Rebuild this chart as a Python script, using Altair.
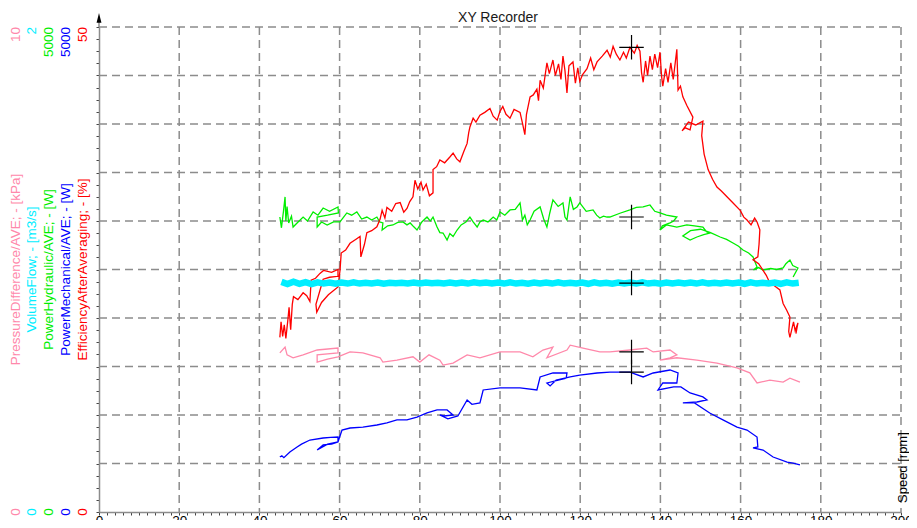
import altair as alt
import pandas as pd

W, H = 802, 485
FONT = "Liberation Sans"
GRID_COLOR = "#8c8c8c"

# ---------------- data ----------------
x_label_values = [0, 20, 40, 60, 80, 100, 120, 140, 160, 180, 200]
x_grid_values = [20, 40, 60, 80, 100, 120, 140, 160, 180, 200]
x_minor_ticks = list(range(0, 201, 2))
y_grid_units = [1, 2, 3, 4, 5, 6, 7, 8, 9, 10]
y_minor_ticks = [i / 4 for i in range(41)]

# (speed, efficiency %)
red = [(45.1, 18.0), (45.4, 19.6), (45.8, 18.1), (46.2, 19.3), (46.6, 17.9), (47.1, 19.8), (47.4, 21.1),
       (47.8, 18.8), (48.2, 21.4), (48.5, 22.2), (49.6, 21.9), (50.9, 22.6), (51.8, 22.3), (52.6, 21.7),
       (52.9, 23.9), (54.0, 24.1), (55.1, 24.6), (56.0, 24.9), (58.0, 24.7), (59.6, 25.0), (59.6, 24.3),
       (57.5, 24.2), (55.9, 24.0), (54.1, 21.4), (54.3, 20.6), (55.5, 21.6), (57.2, 22.4), (59.6, 23.2),
       (60.1, 24.9), (60.4, 26.7), (61.5, 27.0), (62.6, 27.7), (64.0, 28.1), (65.1, 28.4), (65.3, 26.3),
       (66.2, 27.6), (66.8, 28.8), (68.0, 29.0), (69.3, 29.4), (70.1, 30.2), (70.6, 31.1), (71.3, 30.3),
       (71.8, 31.4), (73.0, 31.0), (74.0, 31.8), (75.1, 31.9), (76.0, 30.9), (76.8, 31.3), (77.5, 32.0),
       (78.3, 32.5), (78.8, 34.2), (79.5, 33.3), (80.3, 34.0), (80.8, 33.2), (81.6, 33.8), (82.4, 32.6),
       (83.3, 32.9), (83.3, 35.3), (84.2, 35.6), (85.0, 36.3), (86.2, 36.0), (87.5, 36.6), (88.3, 37.0),
       (89.2, 36.4), (90.0, 36.1), (91.0, 37.2), (91.8, 38.0), (92.2, 39.1), (92.5, 39.7), (93.3, 40.6),
       (94.0, 40.2), (95.0, 40.9), (96.2, 41.2), (97.5, 41.6), (98.3, 40.8), (99.3, 40.4), (100.0, 41.3),
       (100.7, 41.8), (101.5, 41.0), (102.5, 40.6), (103.5, 41.5), (105.0, 41.2), (105.6, 40.1), (106.2, 38.9),
       (106.6, 41.0), (107.5, 42.8), (108.3, 43.0), (109.2, 43.6), (109.6, 42.4), (110.0, 44.5), (110.8, 43.7),
       (111.7, 46.3), (112.3, 45.2), (113.2, 46.6), (113.8, 45.0), (114.6, 46.2), (115.2, 44.6), (115.7, 47.0),
       (116.2, 45.5), (116.7, 43.2), (117.2, 46.0), (118.2, 46.4), (118.8, 44.2), (119.4, 45.8), (119.9, 44.4),
       (120.6, 45.1), (121.7, 45.7), (122.6, 46.8), (123.4, 45.6), (124.2, 46.4), (125.5, 47.0), (126.7, 47.6),
       (127.5, 46.9), (128.2, 48.0), (129.0, 47.2), (129.9, 46.6), (130.8, 47.4), (131.5, 46.8), (132.4, 47.9),
       (133.5, 47.3), (134.2, 48.1), (134.9, 47.5), (135.3, 45.3), (135.7, 44.3), (136.3, 46.5), (136.8, 45.0),
       (137.4, 47.0), (138.0, 45.6), (138.6, 47.2), (139.3, 45.8), (139.9, 47.4), (140.3, 44.9), (140.6, 43.9),
       (141.3, 45.7), (141.9, 44.3), (142.6, 46.3), (143.2, 44.6), (144.1, 47.7), (144.3, 45.0), (144.4, 43.5),
       (145.0, 43.9), (145.6, 42.8), (146.6, 41.9), (148.1, 40.7), (147.4, 39.4), (146.2, 39.6), (145.4, 39.3),
       (147.0, 40.2), (148.8, 39.9), (150.6, 40.3), (150.3, 38.8), (150.9, 36.9), (151.9, 35.3), (153.0, 34.3),
       (154.1, 33.5), (155.2, 33.1), (156.6, 32.5), (158.0, 31.9), (159.9, 31.1), (160.8, 30.4), (161.6, 30.1),
       (162.6, 29.6), (163.5, 30.3), (164.1, 29.9), (164.8, 29.1), (164.6, 27.6), (164.3, 26.3), (163.1, 26.0),
       (164.5, 25.6), (165.6, 24.9), (166.4, 24.4), (167.3, 23.6), (168.5, 23.3), (169.8, 22.9), (170.6, 21.5),
       (171.5, 20.8), (172.3, 20.1), (172.0, 18.6), (172.3, 18.0), (173.2, 19.6), (173.6, 18.7), (174.3, 19.5),
       (173.8, 18.4)]

# (speed, hydraulic power W)
green = [(45.1, 3041), (45.5, 2930), (46.0, 3100), (46.4, 3248), (46.6, 3000), (46.9, 3150), (47.3, 2980),
         (48.0, 3050), (48.4, 2938), (49.4, 2980), (50.9, 3041), (52.0, 3000), (53.4, 3093), (54.6, 3060),
         (55.9, 3134), (57.5, 3100), (59.6, 3145), (59.7, 3083), (57.0, 3060), (54.4, 3041), (54.4, 2938),
         (55.5, 2990), (56.9, 2959), (58.5, 2990), (60.1, 2990), (61.0, 3040), (61.8, 3083), (63.0, 3060),
         (64.3, 3093), (65.5, 3020), (66.8, 3041), (68.0, 3010), (69.3, 3041), (70.0, 2990), (70.8, 2980),
         (70.6, 2907), (72.0, 2950), (73.3, 2959), (74.5, 2985), (75.8, 2990), (76.8, 2960), (77.6, 2980),
         (78.5, 2940), (79.3, 2907), (80.5, 2990), (81.8, 3041), (82.6, 3000), (83.3, 3041), (84.3, 2938),
         (85.0, 2880), (85.8, 2876), (86.8, 2804), (87.5, 2870), (88.3, 2840), (89.3, 2907), (90.3, 2960),
         (91.5, 2990), (92.5, 3041), (93.3, 2990), (94.3, 2938), (95.0, 2990), (95.8, 3010), (97.0, 2990),
         (98.3, 3041), (99.2, 3010), (100.0, 3093), (101.2, 3060), (102.5, 3114), (103.8, 3120), (105.0, 3186),
         (105.6, 3010), (106.2, 3060), (106.8, 2960), (107.5, 3010), (108.5, 3100), (110.0, 3145), (110.9, 3020),
         (111.7, 2938), (112.4, 3080), (113.2, 3217), (114.5, 3150), (115.7, 3186), (116.2, 3040), (116.7, 3010),
         (117.2, 3160), (117.5, 3248), (118.3, 3120), (119.2, 3145), (119.9, 3186), (121.5, 3100), (123.2, 3114),
         (124.1, 3060), (124.9, 3031), (125.8, 3050), (126.7, 3041), (127.4, 3041), (129.9, 3080), (132.4, 3114),
         (134.0, 3140), (135.7, 3145), (137.4, 3165), (138.6, 3100), (139.9, 3083), (141.5, 3060), (144.1, 3041),
         (143.3, 3000), (142.4, 2980), (140.5, 2950), (139.9, 2907), (141.5, 2960), (144.1, 2938), (146.6, 2959),
         (148.5, 2950), (150.6, 2938), (151.5, 2890), (152.3, 2876), (150.8, 2860), (149.1, 2835), (147.4, 2804),
         (145.6, 2845), (147.5, 2900), (150.0, 2915), (152.5, 2880), (154.9, 2835), (156.5, 2810), (158.1, 2773),
         (159.5, 2740), (160.6, 2701), (162.0, 2670), (163.1, 2629), (164.1, 2526), (163.2, 2495), (164.5, 2520),
         (165.6, 2495), (167.5, 2510), (169.0, 2500), (170.6, 2516), (171.3, 2560), (172.3, 2598), (173.0, 2540),
         (174.3, 2516), (173.1, 2423)]

# (speed, mechanical power W)
blue = [(45.1, 567), (45.6, 580), (46.1, 560), (47.6, 619), (49.4, 670), (50.5, 700), (52.6, 742), (55.9, 763),
        (57.8, 770), (59.6, 773), (59.6, 722), (57.0, 700), (54.4, 639), (55.0, 660), (55.9, 691), (58.0, 700),
        (59.6, 722), (60.6, 845), (62.6, 866), (65.8, 876), (69.3, 897), (71.8, 918), (74.3, 949), (76.8, 949),
        (79.3, 979), (81.8, 1021), (84.3, 1052), (86.8, 1052), (88.3, 1000), (86.0, 990), (85.0, 1000),
        (87.0, 960), (89.5, 990), (91.8, 1155), (93.0, 1110), (95.0, 1124), (95.8, 1258), (100.0, 1279),
        (105.0, 1279), (109.2, 1258), (110.0, 1392), (113.2, 1433), (116.7, 1433), (116.5, 1380), (111.7, 1330),
        (112.5, 1300), (114.0, 1360), (117.5, 1392), (119.9, 1412), (124.2, 1433), (127.4, 1443), (129.9, 1443),
        (132.4, 1443), (135.7, 1392), (138.2, 1433), (142.4, 1464), (144.4, 1433), (144.1, 1330), (140.6, 1330),
        (139.4, 1258), (143.3, 1289), (145.1, 1289), (147.4, 1227), (150.6, 1186), (151.6, 1155), (149.1, 1134),
        (145.6, 1124), (148.5, 1124), (152.3, 1021), (155.6, 949), (159.1, 876), (161.6, 845), (164.1, 773),
        (164.3, 670), (163.1, 660), (165.6, 639), (168.1, 567), (171.6, 515), (173.1, 505), (174.8, 485)]

# (speed, pressure difference kPa)
pink = [(45.1, 3.28), (46.4, 3.40), (46.9, 3.24), (48.4, 3.18), (50.9, 3.24), (54.4, 3.34), (59.6, 3.38),
        (59.6, 3.28), (54.4, 3.24), (54.4, 3.09), (57.0, 3.15), (59.6, 3.20), (62.6, 3.30), (65.8, 3.28),
        (70.1, 3.18), (70.8, 3.09), (74.3, 3.13), (78.3, 3.20), (80.0, 3.09), (82.3, 3.24), (85.0, 3.13),
        (85.8, 3.03), (88.3, 3.07), (91.8, 3.24), (95.0, 3.18), (100.0, 3.30), (105.0, 3.30), (108.2, 3.20),
        (110.7, 3.34), (113.2, 3.40), (111.7, 3.18), (116.7, 3.34), (117.5, 3.44), (120.7, 3.38), (124.9, 3.30),
        (127.4, 3.30), (132.4, 3.34), (136.6, 3.38), (138.2, 3.30), (142.4, 3.34), (144.1, 3.24), (142.4, 3.18),
        (139.9, 3.13), (144.1, 3.18), (149.1, 3.13), (154.1, 3.07), (159.1, 2.97), (162.3, 2.87), (164.1, 2.66),
        (167.3, 2.72), (170.6, 2.68), (172.3, 2.76), (174.8, 2.68)]

# volume flow (m3/s), noisy band
cyan_speed = [45.5, 47.0, 48.5, 50.0, 51.5, 53.0, 54.5, 56.0, 57.5, 59.0, 60.5, 62.0, 63.5, 65.0, 66.5, 68.0,
              69.5, 71.0, 72.5, 74.0, 75.5, 77.0, 78.5, 80.0, 81.5, 83.0, 84.5, 86.0, 87.5, 89.0, 90.5, 92.0,
              93.5, 95.0, 96.5, 98.0, 99.5, 101.0, 102.5, 104.0, 105.5, 107.0, 108.5, 110.0, 111.5, 113.0,
              114.5, 116.0, 117.5, 119.0, 120.5, 122.0, 123.5, 125.0, 126.5, 128.0, 129.5, 131.0, 132.5, 134.0,
              135.5, 137.0, 138.5, 140.0, 141.5, 143.0, 144.5, 146.0, 147.5, 149.0, 150.5, 152.0, 153.5, 155.0,
              156.5, 158.0, 159.5, 161.0, 162.5, 164.0, 165.5, 167.0, 168.5, 170.0, 171.5, 173.0, 174.5]
cyan_flow = [0.949, 0.940, 0.950, 0.941, 0.948, 0.940, 0.947, 0.942, 0.946, 0.941,
             0.946, 0.942, 0.947, 0.942, 0.945, 0.942, 0.946, 0.941, 0.945, 0.943,
             0.945, 0.942, 0.946, 0.942, 0.946, 0.943, 0.945, 0.942, 0.946, 0.942,
             0.946, 0.942, 0.947, 0.943, 0.946, 0.942, 0.946, 0.942, 0.947, 0.942,
             0.945, 0.941, 0.946, 0.942, 0.946, 0.942, 0.947, 0.942, 0.945, 0.942,
             0.946, 0.941, 0.947, 0.942, 0.945, 0.941, 0.946, 0.942, 0.946, 0.942,
             0.947, 0.942, 0.945, 0.941, 0.946, 0.942, 0.946, 0.942, 0.946, 0.942,
             0.947, 0.942, 0.945, 0.942, 0.946, 0.942, 0.946, 0.941, 0.947, 0.942,
             0.945, 0.942, 0.946, 0.941, 0.947, 0.942, 0.945]

# cursor crosses at the same speed on every trace
cursor_speed = 132.8
cursor_red, cursor_green, cursor_cyan, cursor_pink, cursor_blue = 47.9, 3041, 0.944, 3.30, 1443

# colours and scale maxima
C_RED, C_GREEN, C_BLUE, C_CYAN, C_PINK = "#ff0000", "#00ee00", "#0000ff", "#00eeff", "#ff88aa"
axes_info = [  # (title, top label, colour)
    ("PressureDifference/AVE; - [kPa]", "10", C_PINK),
    ("VolumeFlow; - [m3/s]", "2", C_CYAN),
    ("PowerHydraulic/AVE; - [W]", "5000", C_GREEN),
    ("PowerMechanical/AVE; - [W]", "5000", C_BLUE),
    ("EfficiencyAfterAveraging; - [%]", "50", C_RED),
]
axis_x_px = [-83, -67, -50, -33, -16]

XS = alt.Scale(domain=[0, 200])


def pairs_df(pairs):
    return pd.DataFrame({"speed": [p[0] for p in pairs], "val": [p[1] for p in pairs],
                         "i": list(range(len(pairs)))})


def line_layer(df, dmax, color, width=1.3):
    return alt.Chart(df).mark_line(color=color, strokeWidth=width, clip=True).encode(
        x=alt.X("speed:Q", scale=XS, axis=None),
        y=alt.Y("val:Q", scale=alt.Scale(domain=[0, dmax]), axis=None),
        order="i:Q",
    )


def cursor_layer(val, dmax):
    df = pd.DataFrame({"speed": [cursor_speed], "val": [val]})
    return alt.Chart(df).mark_point(shape="M-1,0L1,0M0,-1L0,1", size=600, filled=False,
                                    color="black", strokeWidth=1.2, opacity=1).encode(
        x=alt.X("speed:Q", scale=XS, axis=None),
        y=alt.Y("val:Q", scale=alt.Scale(domain=[0, dmax]), axis=None),
    )


def text_layer(text, x, y, color, angle=0, align="center", baseline="middle", size=13.5):
    return alt.Chart(pd.DataFrame({"t": [text]})).mark_text(
        angle=angle, align=align, baseline=baseline, color=color, fontSize=size, font=FONT
    ).encode(text="t:N", x=alt.value(x), y=alt.value(y))


# grids and axes
hgrid = alt.Chart(pd.DataFrame({"g": y_grid_units})).mark_rule(
    color=GRID_COLOR, strokeWidth=1.5, strokeDash=[8, 5]
).encode(
    y=alt.Y("g:Q", scale=alt.Scale(domain=[0, 10]),
            axis=alt.Axis(values=y_minor_ticks, labels=False, title=None, grid=False, tickSize=3,
                          tickColor="#444444", tickWidth=1, domainColor=GRID_COLOR, domainWidth=1.5)),
    x=alt.value(0), x2=alt.value(W),
)

vgrid = alt.Chart(pd.DataFrame({"s": x_grid_values})).mark_rule(
    color=GRID_COLOR, strokeWidth=1.5, strokeDash=[8, 5]
).encode(
    x=alt.X("s:Q", scale=XS,
            axis=alt.Axis(values=x_minor_ticks, title=None, grid=False, tickSize=3, tickColor="#444444",
                          tickWidth=1, domainColor=GRID_COLOR, domainWidth=1.5,
                          labelExpr="datum.value % 20 == 0 ? datum.label : ''",
                          labelFont=FONT, labelFontSize=13.5, labelColor="#000000", labelPadding=-2,
                          labelFlush=False, labelOverlap=False)),
    y=alt.value(0), y2=alt.value(H),
)

axis_ext = alt.Chart(pd.DataFrame({"a": [0]})).mark_rule(color=GRID_COLOR, strokeWidth=1.5).encode(
    x=alt.value(0), y=alt.value(-10), y2=alt.value(0))
arrow = alt.Chart(pd.DataFrame({"a": [0]})).mark_point(
    shape="M0,-1L0.4,0.6L-0.4,0.6Z", size=150, filled=True, color="black", opacity=1
).encode(x=alt.value(0), y=alt.value(-8))

layers = [hgrid, vgrid, axis_ext, arrow,
          line_layer(pairs_df(pink), 10, C_PINK),
          line_layer(pairs_df(blue), 5000, C_BLUE),
          line_layer(pairs_df(green), 5000, C_GREEN),
          line_layer(pairs_df(red), 50, C_RED),
          line_layer(pd.DataFrame({"speed": cyan_speed, "val": cyan_flow, "i": list(range(len(cyan_speed)))}),
                     2, C_CYAN, width=6.5),
          cursor_layer(cursor_red, 50), cursor_layer(cursor_green, 5000), cursor_layer(cursor_cyan, 2),
          cursor_layer(cursor_pink, 10), cursor_layer(cursor_blue, 5000)]

for (title, top, color), ax in zip(axes_info, axis_x_px):
    layers.append(text_layer(title, ax, H / 2, color, angle=270))
    layers.append(text_layer(top, ax, 0, color, angle=270, align="right"))
    layers.append(text_layer("0", ax, H, color, angle=270))

layers.append(text_layer("XY Recorder", 399, -5, "#1a1a1a", baseline="alphabetic", size=14))
layers.append(text_layer("Speed [rpm]", W + 2, H - 9, "#000000", angle=270, align="left", size=13))

chart = alt.layer(*layers).resolve_scale(y="independent").resolve_axis(x="independent").properties(
    width=W, height=H,
    autosize=alt.AutoSizeParams(type="none"),
    padding={"left": 91, "top": 19, "right": 8, "bottom": 8},
).configure_view(stroke=None)

chart.save("out.html", embed_options={"renderer": "svg", "actions": False})
